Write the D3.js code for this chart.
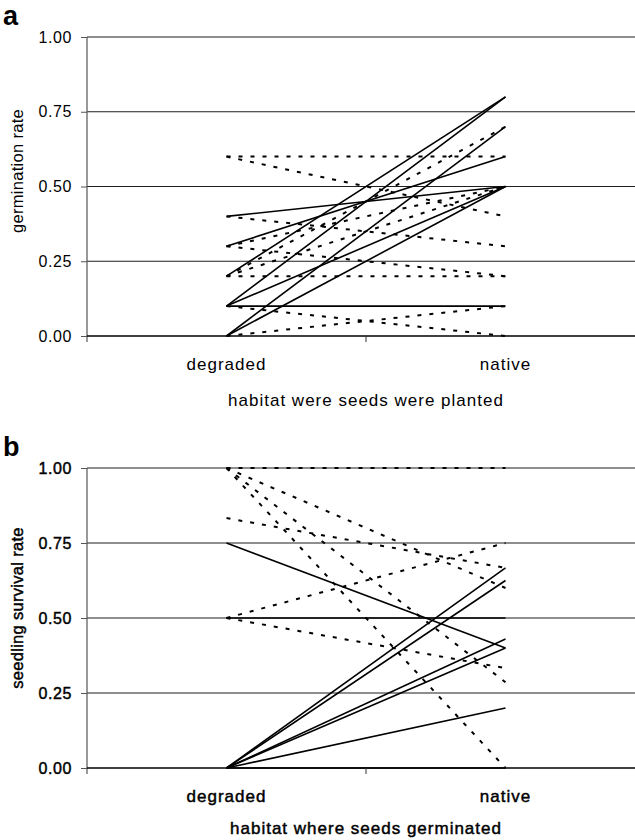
<!DOCTYPE html>
<html>
<head>
<meta charset="utf-8">
<script src="https://cdn.jsdelivr.net/npm/d3@7"></script>
<style>
  body { margin: 0; background: #fff; }
  text { font-family: "Liberation Sans", Arial, sans-serif; }
</style>
</head>
<body>
<div id="chart"></div>
<script>
// categories and ticks
const categories = ["degraded", "native"];
const tickValues = [0, 0.25, 0.5, 0.75, 1];

// panel a: germination rate, [degraded, native]
const germSolid = [
  [0.4, 0.5], [0.3, 0.6], [0.2, 0.8], [0.1, 0.8],
  [0.1, 0.1], [0.1, 0.5], [0.0, 0.7], [0.0, 0.5]
];
const germDotted = [
  [0.6, 0.6], [0.6, 0.4], [0.4, 0.3], [0.3, 0.2], [0.2, 0.2],
  [0.1, 0.0], [0.0, 0.1], [0.2, 0.7], [0.3, 0.5], [0.2, 0.5]
];

// panel b: seedling survival rate, [degraded, native]
const survSolid = [
  [0.75, 0.4], [0.5, 0.5], [0, 0.667], [0, 0.625],
  [0, 0.43], [0, 0.4], [0, 0.2], [0, 0]
];
const survDotted = [
  [1, 1], [1, 0.6], [0.833, 0.667], [1, 0.286], [1, 0],
  [0.5, 0.75], [0.5, 0.333]
];

const width = 635, height = 840;
const left = 87, right = 645;

const svg = d3.select("#chart").append("svg")
  .attr("width", width)
  .attr("height", height);

const panels = [
  { tag: "a", top: 37, bottom: 336, ytitle: "germination rate", ytitleY: 171, xtitleDy: 70,
    xtitle: "habitat were seeds were planted", solid: germSolid, dotted: germDotted, heavy: 0 },
  { tag: "b", top: 468, bottom: 768, ytitle: "seedling survival rate", ytitleY: 608, xtitleDy: 66,
    xtitle: "habitat where seeds germinated", solid: survSolid, dotted: survDotted, heavy: 0.45 }
];

panels.forEach(p => {
  const g = svg.append("g");
  const x = d3.scaleBand().domain(categories).range([left, right]);
  const y = d3.scaleLinear().domain([0, 1]).range([p.bottom, p.top]);
  const cx = c => x(c) + x.bandwidth() / 2;

  // gridlines
  g.selectAll(".grid").data(tickValues.filter(v => v > 0)).join("line")
    .attr("x1", left).attr("x2", right)
    .attr("y1", d => y(d)).attr("y2", d => y(d))
    .attr("stroke", "#1e1e1e").attr("stroke-width", 1.1);

  const line = d3.line()
    .x((d, i) => cx(categories[i]))
    .y(d => y(d));

  g.selectAll(".dotted").data(p.dotted).join("path")
    .attr("d", line)
    .attr("fill", "none")
    .attr("stroke", "#000")
    .attr("stroke-width", 2)
    .attr("stroke-dasharray", "4,8");

  g.selectAll(".solid").data(p.solid).join("path")
    .attr("d", line)
    .attr("fill", "none")
    .attr("stroke", "#000")
    .attr("stroke-width", 1.6);

  // y axis
  const ya = g.append("g")
    .attr("transform", `translate(${left},0)`)
    .call(d3.axisLeft(y).tickValues(tickValues).tickFormat(d3.format(".2f"))
      .tickSize(6).tickSizeOuter(0).tickPadding(9));
  ya.select(".domain").attr("stroke", "#555").attr("stroke-width", 1.2)
    .attr("d", `M0,${p.top}V${p.bottom + 6}`);
  ya.selectAll(".tick line").attr("stroke", "#555");
  ya.selectAll(".tick text")
    .attr("font-size", 16).attr("letter-spacing", 0.6)
    .attr("fill", "#000")
    .attr("stroke", p.heavy ? "#000" : null)
    .attr("stroke-width", p.heavy || null);

  // x axis
  g.append("line")
    .attr("x1", left).attr("x2", right)
    .attr("y1", y(0)).attr("y2", y(0))
    .attr("stroke", "#000").attr("stroke-width", 1.3);
  g.selectAll(".xtick").data([x("native"), right]).join("line")
    .attr("x1", d => d).attr("x2", d => d)
    .attr("y1", y(0)).attr("y2", y(0) + 6)
    .attr("stroke", "#333");

  const txt = sel => sel
    .attr("fill", "#000")
    .attr("stroke", p.heavy ? "#000" : null)
    .attr("stroke-width", p.heavy || null);

  g.selectAll(".cat").data(categories).join("text")
    .attr("x", d => cx(d)).attr("y", y(0) + 34)
    .attr("text-anchor", "middle")
    .attr("font-size", 17).attr("letter-spacing", 1)
    .text(d => d)
    .call(txt);

  g.append("text")
    .attr("x", (left + right) / 2).attr("y", y(0) + p.xtitleDy)
    .attr("text-anchor", "middle")
    .attr("font-size", 17).attr("letter-spacing", 1)
    .text(p.xtitle)
    .call(txt);

  g.append("text")
    .attr("transform", `translate(23,${p.ytitleY}) rotate(-90)`)
    .attr("text-anchor", "middle")
    .attr("font-size", 16.5).attr("letter-spacing", 0.3)
    .text(p.ytitle)
    .call(txt);

  g.append("text")
    .attr("x", 3).attr("y", p.top - 12)
    .attr("font-size", 27).attr("font-weight", "bold")
    .text(p.tag);
});
</script>
</body>
</html>
